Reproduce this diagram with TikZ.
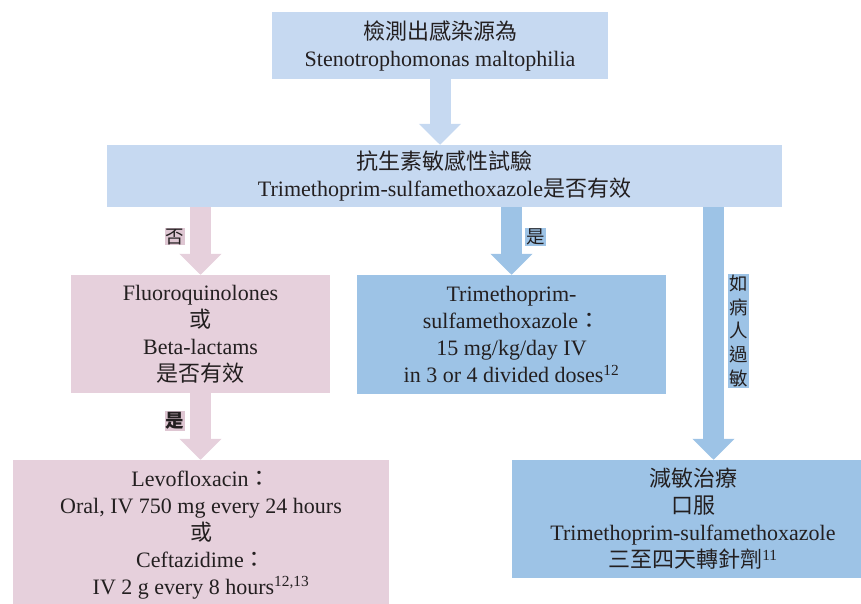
\documentclass[tikz,border=0pt]{standalone}
\usepackage{fontspec}
\setmainfont{Liberation Serif}
\newfontfamily\cjk{Noto Sans CJK TC}
\usetikzlibrary{arrows.meta}
\definecolor{boxL}{RGB}{198,217,241}
\definecolor{boxB}{RGB}{157,195,230}
\definecolor{boxP}{RGB}{230,208,220}
\definecolor{tagP}{RGB}{222,198,210}
\definecolor{txtK}{RGB}{35,31,32}
\newcommand{\zh}[1]{{\cjk #1}}

\begin{document}
\begin{tikzpicture}[x=1pt, y=-1pt,
  box/.style={inner sep=0pt, align=center, text=txtK, font=\fontsize{22}{27}\selectfont,
    execute at begin node={\rule{0pt}{27pt}}},
  flow/.style={line width=21pt, -{Triangle[width=41pt, length=21pt]}},
  tag/.style={inner sep=1pt, align=center, text=txtK, font=\fontsize{18.5}{23.6}\selectfont\cjk}]
\useasboundingbox (0,0) rectangle (861,603);
\clip (0,0) rectangle (861,603);
% top: source and susceptibility test
\node[box, fill=boxL, minimum width=336pt, minimum height=67pt] (src) at (440,45.5)
  {\zh{檢測出感染源為}\\Stenotrophomonas maltophilia};
\node[box, fill=boxL, minimum width=675pt, minimum height=62pt] (test) at (444.5,176)
  {\zh{抗生素敏感性試驗}\\Trimethoprim-sulfamethoxazole\zh{是否有效}};
% middle row
\node[box, fill=boxP, minimum width=259pt, minimum height=118pt] (fq) at (200.5,334)
  {Fluoroquinolones\\\zh{或}\\Beta-lactams\\\zh{是否有效}};
\node[box, fill=boxB, minimum width=309pt, minimum height=119pt] (tmp) at (511.5,334.5)
  {Trimethoprim-\\sulfamethoxazole\zh{：}\\15 mg/kg/day IV\\in 3 or 4 divided doses\textsuperscript{12}};
% bottom row
\node[box, fill=boxP, minimum width=376pt, minimum height=150pt] (levo) at (201,535)
  {Levofloxacin\zh{：}\\Oral, IV 750 mg every 24 hours\\\zh{或}\\Ceftazidime\zh{：}\\IV 2 g every 8 hours\textsuperscript{12,13}};
\node[box, fill=boxB, minimum width=362pt, minimum height=118pt] (desens) at (693,519)
  {\zh{減敏治療}\\\zh{口服}\\Trimethoprim-sulfamethoxazole\\\zh{三至四天轉針劑}\textsuperscript{11}};
% block arrows
\coordinate (rgt) at (713.5,0);
\draw[flow, boxL] (src.south) -- (src.south |- test.north);
\draw[flow, boxP] (test.south -| fq.north) -- (fq.north);
\draw[flow, boxB] (test.south -| tmp.north) -- (tmp.north);
\draw[flow, boxB] (test.south -| rgt) -- (desens.north -| rgt);
\draw[flow, boxP] (fq.south) -- (fq.south |- levo.north);
% arrow labels
\node[tag, fill=tagP] (no) at (175,236.5) {否};
\node[tag, fill=boxB] (yes) at (535.5,237) {是};
\node[tag, fill=tagP, font=\fontsize{18.5}{23.6}\selectfont\cjk\bfseries] (yes2) at (175,421) {是};
\node[tag, fill=boxB] (allergy) at (738.5,331) {如\\病\\人\\過\\敏};
\end{tikzpicture}
\end{document}
